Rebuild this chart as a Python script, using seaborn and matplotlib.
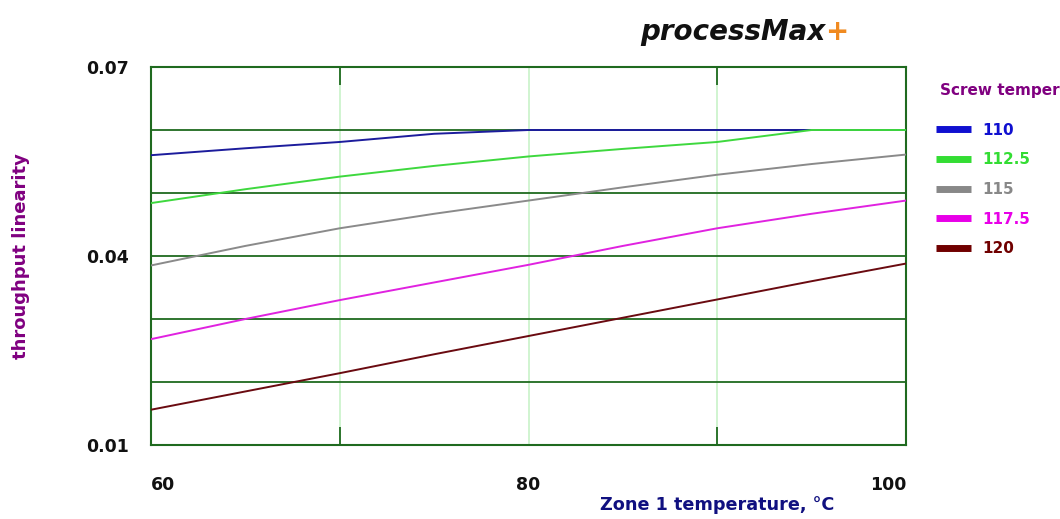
import numpy as np
import pandas as pd
import matplotlib
matplotlib.use("Agg")
import matplotlib.pyplot as plt
import seaborn as sns
from matplotlib.lines import Line2D

# ---- data ----
zone1_temp = [60, 65, 70, 75, 80, 85, 90, 95, 100]
screw_temps = ["110", "112.5", "115", "117.5", "120"]
tp_110 = [0.0560, 0.0571, 0.0581, 0.0594, 0.0600, 0.0600, 0.0600, 0.0600, 0.0600]
tp_112_5 = [0.0484, 0.0506, 0.0526, 0.0543, 0.0558, 0.0570, 0.0581, 0.0600, 0.0600]
tp_115 = [0.0385, 0.0416, 0.0444, 0.0467, 0.0488, 0.0509, 0.0529, 0.0546, 0.0561]
tp_117_5 = [0.0268, 0.0300, 0.0330, 0.0358, 0.0386, 0.0416, 0.0444, 0.0467, 0.0488]
tp_120 = [0.0156, 0.0185, 0.0214, 0.0244, 0.0273, 0.0302, 0.0331, 0.0360, 0.0388]
y_tick_values = [0.01, 0.02, 0.03, 0.04, 0.05, 0.06, 0.07]
y_tick_labels = ["0.01", "", "", "0.04", "", "", "0.07"]
x_tick_values = [60, 80, 100]
x_tick_labels = ["60", "80", "100"]

line_colors = ["#1c1c9c", "#3ed83e", "#8a8a8a", "#e022e0", "#6a0a10"]
legend_colors = ["#1010d0", "#33dd33", "#888888", "#e800e8", "#700000"]

series = [tp_110, tp_112_5, tp_115, tp_117_5, tp_120]
df = pd.DataFrame({
    "zone1": np.tile(zone1_temp, len(screw_temps)),
    "value": np.concatenate(series),
    "screw": np.repeat(screw_temps, len(zone1_temp)),
})

sns.set_theme(style="white")
plt.rcParams["font.family"] = ["DejaVu Sans"]

fig = plt.figure(figsize=(10.6, 5.19), dpi=100)
ax = fig.add_axes([151 / 1060, 1 - 445 / 519, (906 - 151) / 1060, (445 - 67) / 519])

dark_green = "#1f6a1f"
light_green = "#c8f2c8"

ax.set_xlim(60, 100)
ax.set_ylim(0.01, 0.07)

# grid
for xv in [70, 80, 90]:
    ax.axvline(xv, color=light_green, lw=1.2, zorder=0)
ax.set_yticks(y_tick_values)
ax.set_yticklabels(y_tick_labels)
ax.grid(axis="y", color=dark_green, lw=1.3, zorder=1)
ax.set_axisbelow(True)

sns.lineplot(data=df, x="zone1", y="value", hue="screw", palette=line_colors,
             hue_order=screw_temps, legend=False, linewidth=1.4, ax=ax, zorder=3)

ax.set_xticks(x_tick_values)
ax.set_xticklabels(x_tick_labels)
ax.set_xticks([70, 90], minor=True)
ax.tick_params(axis="x", which="major", length=0, pad=22, labelsize=12.5)
ax.tick_params(axis="x", which="minor", direction="in", length=13, width=1.3,
               color=dark_green, top=True, bottom=True)
ax.tick_params(axis="y", length=0, pad=16, labelsize=12.5)
lbls = ax.get_xticklabels()
lbls[0].set_ha("left")
lbls[2].set_ha("right")
for t in ax.get_xticklabels() + ax.get_yticklabels():
    t.set_fontweight("bold")
    t.set_color("#111111")

for s in ax.spines.values():
    s.set_color(dark_green)
    s.set_linewidth(1.5)

ax.set_xlabel("")
ax.set_ylabel("")
fig.text(717 / 1060, 1 - 505 / 519, "Zone 1 temperature, °C", ha="center", va="center",
         fontsize=12.7, fontweight="bold", color="#101080")
fig.text(21 / 1060, 1 - 256 / 519, "throughput linearity", ha="center", va="center",
         rotation=90, fontsize=13, fontweight="bold", color="#800080")

# title
t1 = fig.text(640 / 1060, 1 - 32 / 519, "processMax", ha="left", va="center",
              fontsize=20, fontweight="bold", fontstyle="italic", color="#111111")
fig.canvas.draw()
bb = t1.get_window_extent()
fig.text(bb.x1 / 1060, 1 - 32 / 519, "+", ha="left", va="center",
         fontsize=20, fontweight="bold", fontstyle="italic", color="#f08a20")

# legend
fig.text(940 / 1060, 1 - 90 / 519, "Screw temper", ha="left", va="center",
         fontsize=11, fontweight="bold", color="#800080")
handles = [Line2D([0], [0], color=c, lw=5, solid_capstyle="butt") for c in legend_colors]
leg = fig.legend(handles, screw_temps, loc="upper left",
                 bbox_to_anchor=(922 / 1060, 1 - 109 / 519), frameon=False,
                 fontsize=11, handlelength=2.3, labelspacing=0.96, handletextpad=0.75,
                 labelcolor=legend_colors)
for t in leg.get_texts():
    t.set_fontweight("bold")

fig.savefig("out.png", dpi=100)
